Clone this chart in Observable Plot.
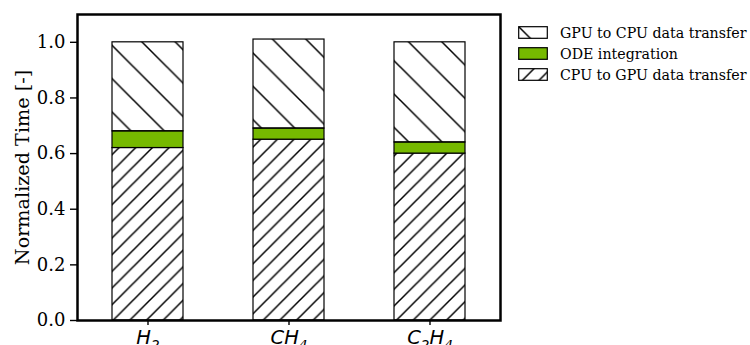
<!DOCTYPE html>
<html><head><meta charset="utf-8">
<script src="https://cdn.jsdelivr.net/npm/d3@7"></script>
<script src="https://cdn.jsdelivr.net/npm/@observablehq/plot@0.6"></script>
<style>
body{margin:0;background:#fff}
#wrap{position:relative;width:750px;height:345px;overflow:hidden}
#legend{position:absolute;left:518px;top:22px;font-family:"DejaVu Serif";font-size:14.2px;color:#000}
.row{display:flex;align-items:center;height:21px;white-space:nowrap}
.row svg{margin-right:12px;flex:none}
</style></head><body>
<svg width="0" height="0" style="position:absolute">
  <defs>
    <pattern id="hatchFwd" patternUnits="userSpaceOnUse" width="16.667" height="16.667">
      <path d="M0,16.667 L16.667,0 M-2,2 L2,-2 M14.667,18.667 L18.667,14.667" stroke="#000" stroke-width="1.5" fill="none"/>
    </pattern>
    <pattern id="hatchBack" patternUnits="userSpaceOnUse" width="33.333" height="33.333">
      <path d="M0,0 L33.333,33.333 M-2,31.333 L2,35.333 M31.333,-2 L35.333,2" stroke="#000" stroke-width="1.5" fill="none"/>
    </pattern>
  </defs>
</svg>
<div id="wrap"><div id="legend"></div></div>
<script>
const molecules = ["H_2", "CH_4", "C_2H_4"];
const components = ["CPU to GPU data transfer", "ODE integration", "GPU to CPU data transfer"];
const cpuToGpu = [0.62, 0.65, 0.60];
const odeIntegration = [0.06, 0.04, 0.04];
const gpuToCpu = [0.32, 0.32, 0.36];
const yTicks = [0, 0.2, 0.4, 0.6, 0.8, 1.0];
const legendOrder = ["GPU to CPU data transfer", "ODE integration", "CPU to GPU data transfer"];

const fills = ["url(#hatchFwd)", "#76b900", "url(#hatchBack)"];

const data = molecules.flatMap((m, i) => [
  {mol: m, part: components[0], value: cpuToGpu[i]},
  {mol: m, part: components[1], value: odeIntegration[i]},
  {mol: m, part: components[2], value: gpuToCpu[i]}
]);

const chart = Plot.plot({
  width: 750, height: 345,
  marginLeft: 77, marginRight: 250, marginTop: 14, marginBottom: 25,
  style: {fontFamily: "DejaVu Serif", fontSize: "18px", background: "#fff", color: "#000"},
  x: {domain: molecules, paddingInner: 0.5, paddingOuter: 0.25, label: null},
  y: {domain: [0, 1.1], label: null},
  color: {domain: components, range: fills},
  marks: [
    Plot.barY(data, {x: "mol", y: "value", fill: "part", stroke: "#000", strokeWidth: 1.2}),
    Plot.axisY({ticks: yTicks, tickFormat: d3.format(".1f"), tickSize: 7, tickPadding: 5,
      strokeWidth: 1.4, label: "Normalized Time [-]", labelArrow: "none", labelAnchor: "center", labelOffset: 62}),
    Plot.axisX({tickSize: 5, tickPadding: 5, strokeWidth: 1.4, label: null}),
    Plot.frame({stroke: "#000", strokeWidth: 2.5})
  ]
});
document.getElementById("wrap").prepend(chart);

// y label slightly larger, like the reference
d3.select(chart).selectAll('g[aria-label="y-axis label"] text').attr("font-size", "19.2px");

// mathtext-like tick labels: italic with subscripts
d3.select(chart).selectAll('g[aria-label="x-axis tick label"] text').each(function() {
  const s = this.textContent;
  const el = d3.select(this);
  el.text(null).attr("font-family", "DejaVu Sans").attr("font-style", "italic").attr("font-size", "19.5px");
  let lowered = false;
  s.split(/(_\d)/).filter(t => t).forEach(part => {
    if (part.startsWith("_")) {
      el.append("tspan").attr("font-size", "13.6px").attr("dy", "6px").text(part.slice(1));
      lowered = true;
    } else {
      el.append("tspan").attr("dy", lowered ? "-6px" : null).text(part);
      lowered = false;
    }
  });
});

// legend
const legend = d3.select("#legend");
legendOrder.forEach(name => {
  const row = legend.append("div").attr("class", "row");
  const sw = row.append("svg").attr("width", 30).attr("height", 13);
  sw.append("rect").attr("x", 0.7).attr("y", 0.7).attr("width", 28.6).attr("height", 11.6)
    .attr("fill", fills[components.indexOf(name)]).attr("stroke", "#000").attr("stroke-width", 1.2);
  row.append("span").text(name);
});
</script>
</body></html>
